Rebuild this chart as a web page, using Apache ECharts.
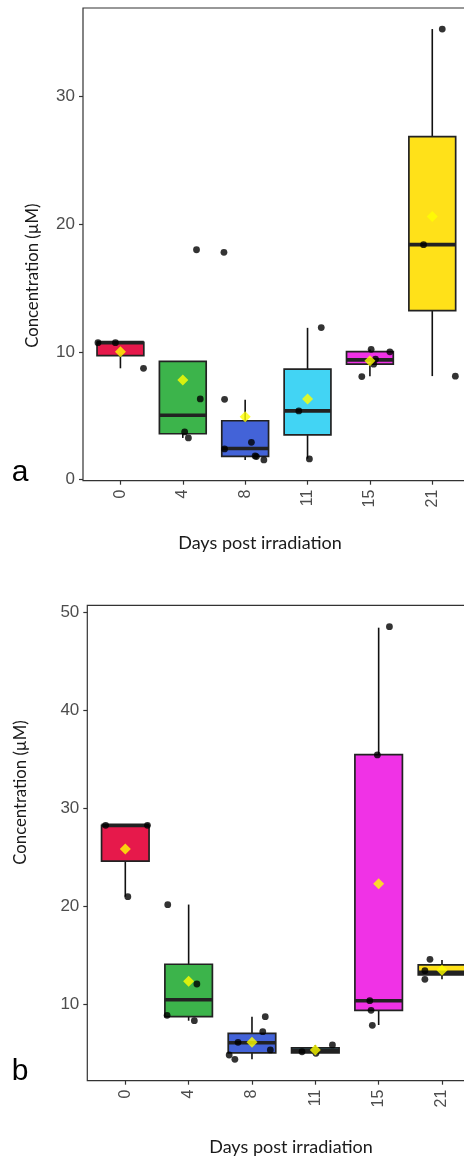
<!DOCTYPE html>
<html>
<head>
<meta charset="utf-8">
<script src="https://cdn.jsdelivr.net/npm/echarts@6/dist/echarts.min.js"></script>
<style>
html,body{margin:0;padding:0;overflow:hidden;background:#fff;width:464px;height:1161px;}
#chart{width:480px;height:1161px;}
</style>
</head>
<body>
<div id="chart"></div>
<script>
// ---- data ----
const days = ['0', '4', '8', '11', '15', '21'];
const yTicksA = [0, 10, 20, 30];
const yTicksB = [10, 20, 30, 40, 50];

// box stats: [lower whisker, Q1, median, Q3, upper whisker]
const boxA = [
  [8.71, 9.70, 10.72, 10.75, 10.75],
  [3.25, 3.58, 5.03, 9.26, 9.26],
  [1.53, 1.80, 2.42, 4.60, 6.25],
  [1.63, 3.49, 5.37, 8.64, 11.88],
  [8.08, 9.03, 9.37, 10.02, 10.18],
  [8.10, 13.23, 18.40, 26.87, 35.30]
];
const meanA = [10.0, 7.8, 4.92, 6.31, 9.31, 20.6];
const pointsA = [
  [10.72, 10.72, 8.71],
  [18.0, 6.31, 3.72, 3.25],
  [17.8, 6.28, 2.91, 2.39, 1.84, 1.79, 1.53],
  [5.37, 11.9, 1.61],
  [10.2, 10.0, 9.42, 9.03, 8.06],
  [35.3, 18.4, 8.09]
];
const jitterA = [
  [-0.36, -0.08, 0.37],
  [0.22, 0.28, 0.03, 0.09],
  [-0.34, -0.33, 0.10, -0.33, 0.16, 0.18, 0.30],
  [-0.14, 0.22, 0.03],
  [0.02, 0.32, 0.09, 0.06, -0.13],
  [0.16, -0.14, 0.37]
];

const boxB = [
  [21.0, 24.63, 28.27, 28.27, 28.27],
  [8.37, 8.78, 10.51, 14.12, 20.2],
  [4.44, 5.10, 6.13, 7.07, 8.78],
  [5.05, 5.10, 5.35, 5.60, 5.90],
  [7.93, 9.43, 10.41, 35.47, 48.4],
  [12.6, 13.03, 13.30, 14.05, 14.55]
];
const meanB = [25.86, 12.38, 6.18, 5.39, 22.33, 13.52];
const pointsB = [
  [28.27, 28.27, 21.0],
  [20.19, 12.11, 8.92, 8.37],
  [8.78, 7.25, 6.17, 5.39, 4.88, 4.44],
  [5.21, 5.9, 5.05],
  [48.5, 35.44, 10.41, 9.43, 7.9],
  [14.62, 13.47, 12.59]
];
const jitterB = [
  [-0.31, 0.35, 0.04],
  [-0.33, 0.13, -0.34, 0.09],
  [0.21, 0.17, -0.22, 0.29, -0.36, -0.27],
  [-0.21, 0.27, 0.01],
  [0.17, -0.02, -0.14, -0.12, -0.10],
  [-0.19, -0.27, -0.27]
];

// ---- styles ----
const fills = ['#e6194b', '#3cb44b', '#4363d8', '#42d4f4', '#f032e6', '#ffe119'];
const lineCol = '#222222';
const tickFont = 'Liberation Sans, Arial, sans-serif';
const titleFont = 'Lato, sans-serif';

function renderBox(params, api) {
  const x = api.value(0);
  const lo = api.coord([x, api.value(1)]);
  const q1 = api.coord([x, api.value(2)]);
  const md = api.coord([x, api.value(3)]);
  const q3 = api.coord([x, api.value(4)]);
  const hi = api.coord([x, api.value(5)]);
  const half = api.size([0.75, 0])[0] / 2;
  const cx = lo[0];
  return {
    type: 'group',
    children: [
      { type: 'line', shape: { x1: cx, y1: q3[1], x2: cx, y2: hi[1] }, style: { stroke: '#111', lineWidth: 1.6 } },
      { type: 'line', shape: { x1: cx, y1: q1[1], x2: cx, y2: lo[1] }, style: { stroke: '#111', lineWidth: 1.6 } },
      { type: 'rect', shape: { x: cx - half, y: q3[1], width: 2 * half, height: q1[1] - q3[1] },
        style: { fill: fills[params.dataIndex], stroke: lineCol, lineWidth: 1.7 } },
      { type: 'line', shape: { x1: cx - half, y1: md[1], x2: cx + half, y2: md[1] }, style: { stroke: lineCol, lineWidth: 3.6 } }
    ]
  };
}

function xAxisFor(gi) {
  return {
    type: 'value', gridIndex: gi, min: -0.6, max: 5.6, position: 'bottom',
    axisLine: { show: false, onZero: false },
    splitLine: { show: false },
    axisTick: { show: true, length: 4, customValues: days.map((d, i) => i), lineStyle: { color: '#333', width: 1.2 } },
    axisLabel: {
      customValues: days.map((d, i) => i),
      formatter: v => days[Math.round(v)],
      rotate: 90, margin: 9, color: '#4d4d4d', fontSize: 16, fontFamily: tickFont
    }
  };
}
function yAxisFor(gi, mn, mx, ticks) {
  return {
    type: 'value', gridIndex: gi, min: mn, max: mx, position: 'left',
    axisLine: { show: false, onZero: false },
    splitLine: { show: false },
    axisTick: { show: true, length: 4, customValues: ticks, lineStyle: { color: '#333', width: 1.2 } },
    axisLabel: { customValues: ticks, margin: 8, color: '#4d4d4d', fontSize: 17, fontFamily: tickFont }
  };
}

function seriesFor(gi, box, mean, pts, jit) {
  const ptData = [];
  pts.forEach((arr, i) => arr.forEach((v, j) => ptData.push([i + jit[i][j], v])));
  return [
    { type: 'custom', xAxisIndex: gi, yAxisIndex: gi, renderItem: renderBox,
      encode: { x: 0, y: [1, 2, 3, 4, 5] },
      data: box.map((b, i) => [i].concat(b)), z: 2, silent: true },
    { type: 'scatter', xAxisIndex: gi, yAxisIndex: gi, data: ptData, symbol: 'circle', symbolSize: 6.8,
      itemStyle: { color: '#000' }, z: 3, silent: true },
    { type: 'scatter', xAxisIndex: gi, yAxisIndex: gi, data: mean.map((m, i) => [i, m]), symbol: 'diamond',
      symbolSize: [11, 11], itemStyle: { color: '#ffff00' }, z: 4, silent: true }
  ];
}

const chart = echarts.init(document.getElementById('chart'), null, { renderer: 'canvas' });
chart.setOption({
  animation: false,
  backgroundColor: '#fff',
  grid: [
    { left: 83, top: 8, right: 10.3, bottom: 680.3, show: true, borderColor: '#333', borderWidth: 1.2, backgroundColor: 'transparent' },
    { left: 87.3, top: 605.3, right: 0, bottom: 80.3, show: true, borderColor: '#333', borderWidth: 1.2, backgroundColor: 'transparent' }
  ],
  xAxis: [xAxisFor(0), xAxisFor(1)],
  yAxis: [yAxisFor(0, -0.1, 36.95, yTicksA), yAxisFor(1, 2.26, 50.68, yTicksB)],
  series: seriesFor(0, boxA, meanA, pointsA, jitterA).concat(seriesFor(1, boxB, meanB, pointsB, jitterB)),
  graphic: [
    { type: 'text', x: 260, y: 543, style: { text: 'Days post irradiation', font: '18px ' + titleFont, fill: '#1a1a1a', align: 'center', verticalAlign: 'middle' } },
    { type: 'text', x: 291, y: 1146.7, style: { text: 'Days post irradiation', font: '18px ' + titleFont, fill: '#1a1a1a', align: 'center', verticalAlign: 'middle' } },
    { type: 'text', x: 33, y: 275.6, rotation: Math.PI / 2, style: { text: 'Concentration (µM)', font: '16.7px ' + titleFont, fill: '#1a1a1a', align: 'center', verticalAlign: 'middle' } },
    { type: 'text', x: 21, y: 792.5, rotation: Math.PI / 2, style: { text: 'Concentration (µM)', font: '16.7px ' + titleFont, fill: '#1a1a1a', align: 'center', verticalAlign: 'middle' } },
    { type: 'text', x: 20, y: 472.5, style: { text: 'a', font: '30px Liberation Sans, Arial, sans-serif', fill: '#000', align: 'center', verticalAlign: 'middle' } },
    { type: 'text', x: 20, y: 1071.5, style: { text: 'b', font: '30px Liberation Sans, Arial, sans-serif', fill: '#000', align: 'center', verticalAlign: 'middle' } }
  ]
});
</script>
</body>
</html>
